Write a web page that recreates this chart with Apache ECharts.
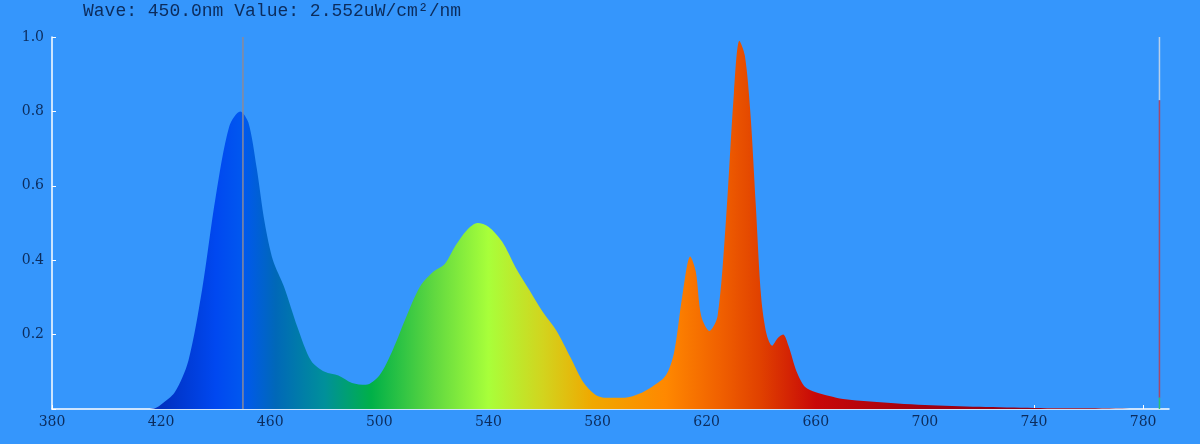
<!DOCTYPE html><html><head><meta charset="utf-8">
<script src="https://cdn.jsdelivr.net/npm/echarts@6/dist/echarts.min.js"></script>
<style>html,body{margin:0;background:#3596fc}#c{width:1200px;height:444px}</style></head><body><div id="c"></div>
<script>
const waves=[380,400,415,418,420,425,430,435,440,445,449,452,455,458,461,465,470,475,480,485,490,495,500,505,510,515,520,524,528,532,536,540,545,550,555,560,565,570,575,580,585,590,595,600,605,608,611,614,616,618,621,624,627,630,632,634,636,638,640,642,644,646,648,650,653,656,660,665,670,680,690,700,720,740,760,770,780,786];
const values=[0,0,0,0.003,0.012,0.045,0.13,0.32,0.57,0.76,0.8,0.77,0.65,0.5,0.4,0.33,0.22,0.13,0.1,0.09,0.07,0.065,0.09,0.16,0.25,0.33,0.37,0.39,0.44,0.48,0.5,0.49,0.45,0.38,0.32,0.26,0.21,0.14,0.07,0.035,0.03,0.03,0.04,0.06,0.09,0.15,0.3,0.41,0.37,0.25,0.21,0.25,0.5,0.85,0.99,0.95,0.8,0.55,0.3,0.2,0.17,0.19,0.2,0.17,0.1,0.06,0.045,0.035,0.027,0.02,0.015,0.011,0.006,0.003,0.002,0.001,0,0];
const yTicks=[0.2,0.4,0.6,0.8,1.0];
const cursorWave=450;
const titleText='Wave: 450.0nm Value: 2.552uW/cm²/nm';
const stops=[[420,'#0030c0'],[440,'#0048f0'],[450,'#0058f0'],[462,'#0068b8'],[480,'#00909a'],[497,'#00b048'],[520,'#60d840'],[540,'#a8ff3a'],[560,'#d2d41e'],[578,'#f0a800'],[605,'#ff8800'],[625,'#f06000'],[640,'#e04000'],[660,'#c80808'],[700,'#a00010'],[786,'#800020']];
const minW=380,maxW=786;
const grad=new echarts.graphic.LinearGradient(0,0,1,0,stops.map(s=>({offset:(s[0]-minW)/(maxW-minW),color:s[1]})));
const chart=echarts.init(document.getElementById('c'));
const lab={color:'#0c2c5c',fontFamily:'DejaVu Serif',fontSize:14};
chart.setOption({
 backgroundColor:'#3596fc',animation:false,
 title:{text:titleText,left:78,top:-3,textStyle:{color:'#0c2c5c',fontFamily:'Liberation Mono',fontSize:18,fontWeight:'normal'}},
 grid:{left:52,right:31,top:37,bottom:35},
 xAxis:{type:'value',min:380,max:789.5,interval:40,axisLine:{lineStyle:{color:'#fff',width:1.5}},axisTick:{inside:true,length:4,lineStyle:{color:'#fff'}},splitLine:{show:false},axisLabel:Object.assign({showMaxLabel:false,margin:6},lab)},
 yAxis:{type:'value',min:0,max:1,interval:0.2,axisLine:{show:true,lineStyle:{color:'#fff',width:1.5}},axisTick:{show:true,inside:true,length:4,lineStyle:{color:'#fff'}},splitLine:{show:false},axisLabel:Object.assign({margin:8,formatter:v=>v===0?'':v.toFixed(1)},lab)},
 series:[
  {type:'line',data:waves.map((w,i)=>[w,values[i]]),symbol:'none',smooth:0.3,lineStyle:{width:0},areaStyle:{color:grad,opacity:1}},
  {type:'line',data:[[cursorWave,0],[cursorWave,1]],symbol:'none',lineStyle:{color:'#8a8a9a',width:1.5}},
  {type:'line',data:[[786,0.83],[786,1]],symbol:'none',lineStyle:{color:'#b8d0ea',width:1.5}},
  {type:'line',data:[[786,0.03],[786,0.83]],symbol:'none',lineStyle:{color:'#a84868',width:1.5}},
  {type:'line',data:[[786,0],[786,0.03]],symbol:'none',lineStyle:{color:'#30c070',width:1.5}}
 ]
});
</script></body></html>
